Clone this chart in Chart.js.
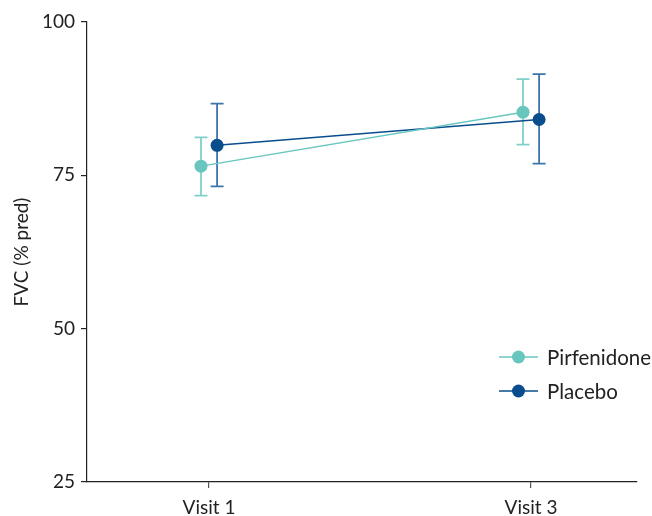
<!DOCTYPE html>
<html><head><meta charset="utf-8">
<script src="https://cdn.jsdelivr.net/npm/chart.js@4/dist/chart.umd.min.js"></script>
<style>html,body{margin:0;padding:0;background:#fff}#wrap{width:652px;height:516px}</style>
</head><body><div id="wrap"><canvas id="c" width="652" height="516"></canvas></div>
<script>
const categories = ["Visit 1", "Visit 3"];
const seriesNames = ["Pirfenidone", "Placebo"];
const pirfMean = [76.5, 85.3];
const pirfLow = [71.7, 80.0];
const pirfHigh = [81.2, 90.7];
const placMean = [79.9, 84.1];
const placLow = [73.2, 76.9];
const placHigh = [86.7, 91.5];
const yTicks = [25, 50, 75, 100];

const catPos = [1, 2];
const dodge = 0.025;
const colors = {pirf: "#68c6bf", pirfErr: "#80cfc9", plac: "#0a4d8c", placErr: "#3d74a9"};

function mk(mean, lo, hi, sign) {
  return mean.map((v, i) => ({x: catPos[i] + sign * dodge, y: v, lo: lo[i], hi: hi[i]}));
}

const errPlugin = {
  id: "err",
  beforeDatasetsDraw(chart) {
    const ctx = chart.ctx, xs = chart.scales.x, ys = chart.scales.y;
    chart.data.datasets.forEach(ds => {
      ctx.save();
      ctx.strokeStyle = ds.errColor; ctx.lineWidth = 1.8;
      ds.data.forEach(p => {
        const x = xs.getPixelForValue(p.x), y1 = ys.getPixelForValue(p.lo), y2 = ys.getPixelForValue(p.hi);
        ctx.beginPath();
        ctx.moveTo(x, y1); ctx.lineTo(x, y2);
        ctx.moveTo(x - 6.5, y1); ctx.lineTo(x + 6.5, y1);
        ctx.moveTo(x - 6.5, y2); ctx.lineTo(x + 6.5, y2);
        ctx.stroke();
      });
      ctx.restore();
    });
  },
  afterDraw(chart) {
    const ctx = chart.ctx;
    ctx.save();
    chart.data.datasets.forEach((ds, i) => {
      const y = 357 + i * 34;
      ctx.strokeStyle = ds.borderColor; ctx.lineWidth = 1.5;
      ctx.beginPath(); ctx.moveTo(499, y); ctx.lineTo(538, y); ctx.stroke();
      ctx.fillStyle = ds.backgroundColor;
      ctx.beginPath(); ctx.arc(518.5, y, 6.5, 0, Math.PI * 2); ctx.fill();
      ctx.fillStyle = "#222"; ctx.font = "20.5px Lato"; ctx.textBaseline = "middle";
      ctx.fillText(ds.label, 547, y + 1);
    });
    ctx.restore();
  }
};

new Chart(document.getElementById("c"), {
  type: "line",
  data: {
    datasets: [
      {label: seriesNames[0], data: mk(pirfMean, pirfLow, pirfHigh, -1), borderColor: colors.pirf, backgroundColor: colors.pirf, errColor: colors.pirfErr, borderWidth: 1.5, pointRadius: 6.5, pointBorderWidth: 0, pointHoverRadius: 6.5},
      {label: seriesNames[1], data: mk(placMean, placLow, placHigh, 1), borderColor: colors.plac, backgroundColor: colors.plac, errColor: colors.placErr, borderWidth: 1.5, pointRadius: 6.5, pointBorderWidth: 0, pointHoverRadius: 6.5}
    ]
  },
  options: {
    responsive: false, animation: false,
    layout: {padding: {left: 0, top: 22, right: 15, bottom: 0}},
    plugins: {legend: {display: false}, tooltip: {enabled: false}},
    scales: {
      x: {
        type: "linear", min: 0.621, max: 2.329,
        afterBuildTicks(s) { s.ticks = catPos.map(v => ({value: v})); },
        afterFit(s) { s.height = 34; },
        ticks: {callback: (v) => categories[catPos.indexOf(v)], color: "#222", font: {family: "Lato", size: 19}, padding: 8, maxRotation: 0},
        grid: {display: true, drawOnChartArea: false, drawTicks: true, tickLength: 6, color: "#555", lineWidth: 1.2},
        border: {display: true, color: "#222", width: 1.2}
      },
      y: {
        min: 25, max: 100,
        afterBuildTicks(s) { s.ticks = yTicks.map(v => ({value: v})); },
        afterFit(s) { s.width = 87; },
        ticks: {color: "#222", font: {family: "Lato", size: 19}, padding: 6},
        grid: {display: true, drawOnChartArea: false, drawTicks: true, tickLength: 6, color: "#222", lineWidth: 1.2},
        border: {display: true, color: "#222", width: 1.2},
        title: {display: true, text: "FVC (% pred)", color: "#222", font: {family: "Lato", size: 19}, padding: {top: 10, bottom: 0}}
      }
    }
  },
  plugins: [errPlugin]
});
</script></body></html>
